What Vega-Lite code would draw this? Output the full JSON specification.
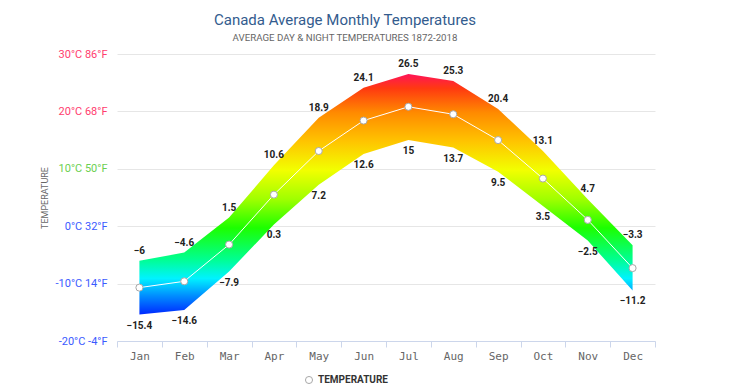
{
  "$schema": "https://vega.github.io/schema/vega-lite/v6.json",
  "width": 538,
  "height": 287,
  "autosize": "none",
  "padding": {"left": 117, "top": 54, "right": 80, "bottom": 47},
  "background": "#ffffff",
  "title": {
    "text": "Canada Average Monthly Temperatures",
    "subtitle": "AVERAGE DAY & NIGHT TEMPERATURES 1872-2018",
    "anchor": "middle",
    "dx": -41,
    "offset": 5,
    "font": "Roboto",
    "fontSize": 15,
    "fontWeight": "normal",
    "color": "#335c8e",
    "subtitleFont": "Roboto",
    "subtitleFontSize": 9.7,
    "subtitleColor": "#666666",
    "subtitlePadding": 5
  },
  "config": {
    "view": {"stroke": null},
    "font": "Roboto"
  },
  "data": {
    "values": [
      {"month": "Jan", "high": -6, "low": -15.4, "avg": -10.7},
      {"month": "Feb", "high": -4.6, "low": -14.6, "avg": -9.6},
      {"month": "Mar", "high": 1.5, "low": -7.9, "avg": -3.2},
      {"month": "Apr", "high": 10.6, "low": 0.3, "avg": 5.5},
      {"month": "May", "high": 18.9, "low": 7.2, "avg": 13.1},
      {"month": "Jun", "high": 24.1, "low": 12.6, "avg": 18.4},
      {"month": "Jul", "high": 26.5, "low": 15, "avg": 20.8},
      {"month": "Aug", "high": 25.3, "low": 13.7, "avg": 19.5},
      {"month": "Sep", "high": 20.4, "low": 9.5, "avg": 15.0},
      {"month": "Oct", "high": 13.1, "low": 3.5, "avg": 8.3},
      {"month": "Nov", "high": 4.7, "low": -2.5, "avg": 1.1},
      {"month": "Dec", "high": -3.3, "low": -11.2, "avg": -7.3}
    ]
  },
  "encoding": {
    "x": {
      "field": "month",
      "type": "ordinal",
      "sort": null,
      "bandPosition": 0.5,
      "scale": {"type": "band", "paddingInner": 0, "paddingOuter": 0},
      "axis": {
        "title": null,
        "labelAngle": 0,
        "labelFont": "DejaVu Sans Mono",
        "labelFontSize": 11,
        "labelColor": "#666666",
        "labelPadding": 3,
        "domainColor": "#ccd6eb",
        "tickColor": "#ccd6eb",
        "tickSize": 6,
        "tickBand": "extent",
        "grid": false
      }
    }
  },
  "layer": [
    {
      "mark": {
        "type": "area",
        "color": {
          "gradient": "linear",
          "x1": 0, "y1": 0, "x2": 0, "y2": 1,
          "stops": [
            {"offset": 0, "color": "#ff1458"},
            {"offset": 0.06, "color": "#ff3a10"},
            {"offset": 0.16, "color": "#ff8a00"},
            {"offset": 0.28, "color": "#ffc400"},
            {"offset": 0.40, "color": "#f2ff00"},
            {"offset": 0.52, "color": "#a0ff00"},
            {"offset": 0.64, "color": "#1cff00"},
            {"offset": 0.77, "color": "#00ff90"},
            {"offset": 0.85, "color": "#00f2ff"},
            {"offset": 0.92, "color": "#0090ff"},
            {"offset": 1, "color": "#0028ff"}
          ]
        }
      },
      "encoding": {
        "y": {
          "field": "high",
          "type": "quantitative",
          "scale": {"domain": [-20, 30], "nice": false, "zero": false},
          "axis": {
            "title": "TEMPERATURE",
            "titleFont": "Roboto",
            "titleFontSize": 9,
            "titleFontWeight": "normal",
            "titleColor": "#666666",
            "titlePadding": 6,
            "values": [-20, -10, 0, 10, 20, 30],
            "labelExpr": "datum.value + '°C ' + round(datum.value * 9 / 5 + 32) + '°F'",
            "labelFont": "Roboto",
            "labelFontSize": 11,
            "labelPadding": 10,
            "labelColor": {
              "condition": [
                {"test": "datum.value >= 20", "value": "#ff3d6e"},
                {"test": "datum.value >= 10", "value": "#6ccf50"}
              ],
              "value": "#3b5bff"
            },
            "domain": false,
            "ticks": false,
            "gridColor": "#e6e6e6"
          }
        },
        "y2": {"field": "low"}
      }
    },
    {
      "mark": {"type": "line", "color": "#ffffff", "strokeWidth": 1},
      "encoding": {
        "y": {"field": "avg", "type": "quantitative"}
      }
    },
    {
      "mark": {"type": "point", "filled": true, "fill": "#ffffff", "strokeWidth": 1, "size": 50, "opacity": 1},
      "encoding": {
        "y": {"field": "avg", "type": "quantitative"},
        "stroke": {
          "datum": "TEMPERATURE",
          "scale": {"range": ["#a8a8a8"]},
          "legend": {
            "title": null,
            "orient": "none",
            "legendX": 187,
            "legendY": 321,
            "symbolType": "circle",
            "symbolFillColor": "#ffffff",
            "symbolStrokeWidth": 1,
            "symbolSize": 50,
            "labelFont": "Roboto",
            "labelFontSize": 10,
            "labelFontWeight": "bold",
            "labelColor": "#333333"
          }
        }
      }
    },
    {
      "mark": {"type": "text", "dy": -10, "font": "Roboto", "fontSize": 10, "fontWeight": "bold", "color": "#222222"},
      "encoding": {
        "y": {"field": "high", "type": "quantitative"},
        "text": {"field": "high", "type": "quantitative"}
      }
    },
    {
      "mark": {"type": "text", "dy": 11, "font": "Roboto", "fontSize": 10, "fontWeight": "bold", "color": "#222222"},
      "encoding": {
        "y": {"field": "low", "type": "quantitative"},
        "text": {"field": "low", "type": "quantitative"}
      }
    }
  ]
}
